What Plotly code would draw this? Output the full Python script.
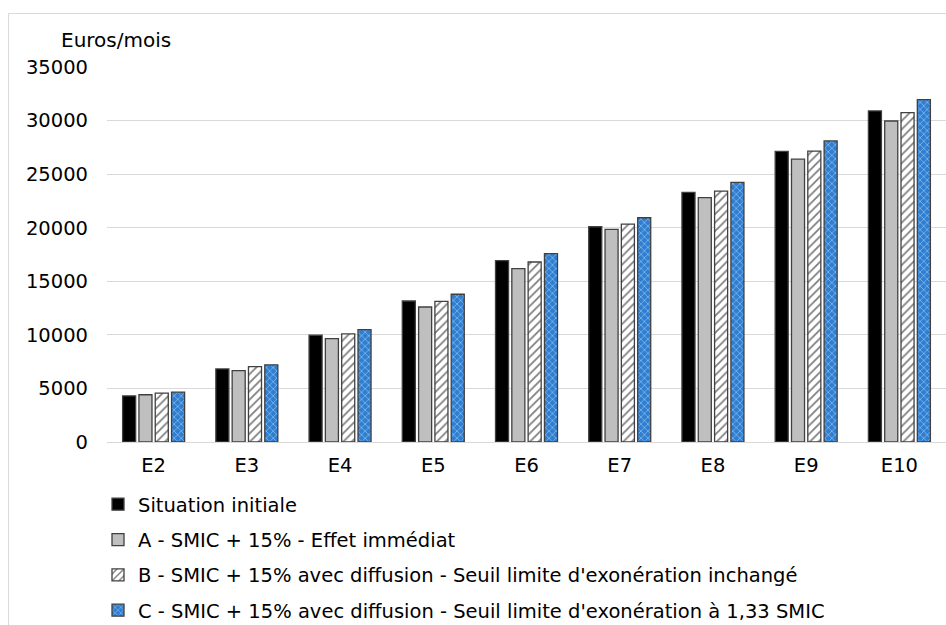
import plotly.graph_objects as go

categories = ["E2", "E3", "E4", "E5", "E6", "E7", "E8", "E9", "E10"]
series_names = [
    "Situation initiale",
    "A - SMIC + 15% - Effet immédiat",
    "B - SMIC + 15% avec diffusion - Seuil limite d'exonération inchangé",
    "C - SMIC + 15% avec diffusion - Seuil limite d'exonération à 1,33 SMIC",
]
situation_initiale = [4300, 6820, 9970, 13160, 16930, 20090, 23300, 27130, 30900]
scenario_a = [4410, 6670, 9650, 12600, 16180, 19850, 22800, 26400, 29960]
scenario_b = [4560, 7040, 10090, 13130, 16800, 20340, 23420, 27150, 30750]
scenario_c = [4650, 7200, 10480, 13790, 17580, 20930, 24230, 28100, 31960]
y_ticks = [0, 5000, 10000, 15000, 20000, 25000, 30000, 35000]

FONT = "DejaVu Sans"
W, H = 946, 625
L, R, T, B = 107, 0, 67, 183
pw, ph = W - L - R, H - T - B

def px_x(p):
    return (p - L) / pw

def px_y(p):
    return (H - B - p) / ph

outline = dict(color="#404040", width=1.3)

fig = go.Figure()
fig.add_trace(go.Bar(
    x=categories, y=situation_initiale, name=series_names[0],
    marker=dict(color="#000000", line=outline), legendgroup="g0"))
fig.add_trace(go.Bar(
    x=categories, y=scenario_a, name=series_names[1],
    marker=dict(color="#BFBFBF", line=outline), legendgroup="g1"))
fig.add_trace(go.Bar(
    x=categories, y=scenario_b, name=series_names[2],
    marker=dict(color="#FFFFFF", line=outline,
                pattern=dict(shape="/", fgcolor="#000000", bgcolor="#FFFFFF",
                             size=6, solidity=0.3, fillmode="overlay")),
    legendgroup="g2"))
fig.add_trace(go.Bar(
    x=categories, y=scenario_c, name=series_names[3],
    marker=dict(color="#2E7FD2", line=outline,
                pattern=dict(shape="x", fgcolor="#FFFFFF", bgcolor="#2E7FD2",
                             size=5, solidity=0.25, fillmode="overlay")),
    legendgroup="g3"))

fig.update_layout(
    width=W, height=H,
    margin=dict(l=L, r=R, t=T, b=B, pad=0, autoexpand=False),
    paper_bgcolor="white", plot_bgcolor="white",
    font=dict(family=FONT, size=19.5, color="#000000"),
    barmode="group", bargap=0.30, bargroupgap=0.2,
    showlegend=True,
    legend=dict(
        orientation="v", x=px_x(98), xanchor="left", y=px_y(485), yanchor="top",
        yref="paper", font=dict(family=FONT, size=19.5, color="#000000"),
        tracegroupgap=7, traceorder="grouped", bgcolor="rgba(0,0,0,0)",
        itemwidth=30,
    ),
    xaxis=dict(
        type="category", showgrid=False, showline=False, zeroline=False,
        ticks="", tickfont=dict(family=FONT, size=19.5, color="#000000"),
        ticklabelstandoff=9,
    ),
    yaxis=dict(
        range=[0, 35000], tickvals=y_ticks, ticktext=[str(v) for v in y_ticks],
        showgrid=True, gridcolor="#D9D9D9", gridwidth=1,
        zeroline=True, zerolinecolor="#D9D9D9", zerolinewidth=1,
        showline=False, ticks="",
        tickfont=dict(family=FONT, size=19.5, color="#000000"),
        ticklabelstandoff=18,
    ),
    annotations=[dict(
        text="Euros/mois", xref="paper", yref="paper",
        x=px_x(115.5), y=px_y(40), xanchor="center", yanchor="middle",
        showarrow=False, font=dict(family=FONT, size=20, color="#000000"),
    )],
    shapes=[dict(
        type="rect", xref="paper", yref="paper",
        x0=px_x(8.5), x1=px_x(960), y0=px_y(640), y1=px_y(13.5),
        line=dict(color="#D9D9D9", width=1), fillcolor="rgba(0,0,0,0)",
        layer="below",
    )],
)

fig.write_html(
    "out.html",
    config={"displayModeBar": False},
    post_script="document.body.style.margin='0';document.body.style.overflow='hidden';",
)
